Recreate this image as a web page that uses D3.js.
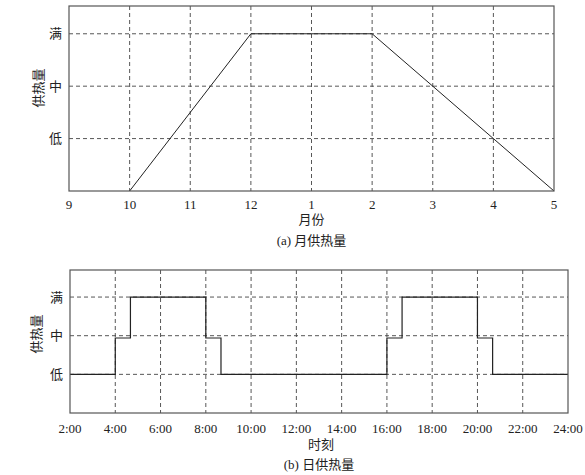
<!DOCTYPE html>
<html><head><meta charset="utf-8">
<script src="https://cdn.jsdelivr.net/npm/d3@7"></script>
<style>
body{margin:0;background:#fff;}
text{font-family:"Liberation Serif","Times New Roman","Noto Sans CJK SC",serif;fill:#222;}
</style></head>
<body><svg id="c" width="585" height="475"></svg>
<script>
// Monthly chart data
const months = ["9","10","11","12","1","2","3","4","5"];
const monthPoints = ["10","12","2","5"];
const monthLevels = [0,3,3,0];
// Daily chart data
const hourTicks = [2,4,6,8,10,12,14,16,18,20,22,24];
const hourTickLabels = ["2:00","4:00","6:00","8:00","10:00","12:00","14:00","16:00","18:00","20:00","22:00","24:00"];
const stepHours = [2,4,4.67,8,8.67,16,16.67,20,20.67,24];
const stepLevels = [1,1.94,3,1.94,1,1.94,3,1.94,1,1];
// Level labels
const levelValues = [1,2,3];
const levelLabels = ["低","中","满"];

const svg = d3.select("#c");
const gridColor = "#444", lineColor = "#222";

function frame(g, x0, x1, y0, y1){
  g.append("rect").attr("x",x0).attr("y",y0).attr("width",x1-x0).attr("height",y1-y0)
   .attr("fill","none").attr("stroke","#555").attr("stroke-width",1.2);
}
function hgrid(g, y, x0, x1){
  g.selectAll(null).data(levelValues).join("line")
   .attr("x1",x0).attr("x2",x1).attr("y1",d=>y(d)).attr("y2",d=>y(d))
   .attr("stroke",gridColor).attr("stroke-width",0.9).attr("stroke-dasharray","4,3");
  g.selectAll(null).data(levelValues).join("text")
   .attr("x",x0-7).attr("y",d=>y(d)).attr("dy","0.35em").attr("text-anchor","end")
   .attr("font-size",13).text((d,i)=>levelLabels[i]);
}

// ---------- (a) ----------
{
  const L=69,R=554,T=6,B=191;
  const g = svg.append("g");
  const x = d3.scalePoint().domain(months).range([L,R]);
  const y = d3.scaleLinear().domain([0,3.53]).range([B,T]);
  g.selectAll(null).data(months.slice(1,-1)).join("line")
   .attr("x1",d=>x(d)).attr("x2",d=>x(d)).attr("y1",T).attr("y2",B)
   .attr("stroke",gridColor).attr("stroke-width",0.9).attr("stroke-dasharray","4,3");
  hgrid(g,y,L,R);
  g.selectAll(null).data(months).join("text")
   .attr("x",d=>x(d)).attr("y",B+13).attr("dy","0.35em").attr("text-anchor","middle")
   .attr("font-size",13).text(d=>d);
  const line = d3.line().x((d,i)=>x(monthPoints[i])).y(d=>y(d));
  g.append("path").attr("d",line(monthLevels)).attr("fill","none").attr("stroke",lineColor).attr("stroke-width",1);
  frame(g,L,R,T,B);
  g.append("text").attr("transform",`translate(38,88) rotate(-90)`).attr("text-anchor","middle")
   .attr("dy","0.35em").attr("font-size",13).text("供热量");
  g.append("text").attr("x",(L+R)/2).attr("y",219).attr("dy","0.35em").attr("text-anchor","middle").attr("font-size",13).text("月份");
  g.append("text").attr("x",(L+R)/2).attr("y",240).attr("dy","0.35em").attr("text-anchor","middle").attr("font-size",13).text("(a) 月供热量");
}

// ---------- (b) ----------
{
  const L=70,R=568,T=270,B=413;
  const g = svg.append("g");
  const x = d3.scaleLinear().domain([2,24]).range([L,R]);
  const y = d3.scaleLinear().domain([0,3.7]).range([B,T]);
  g.selectAll(null).data(hourTicks.slice(1,-1)).join("line")
   .attr("x1",d=>x(d)).attr("x2",d=>x(d)).attr("y1",T).attr("y2",B)
   .attr("stroke",gridColor).attr("stroke-width",0.9).attr("stroke-dasharray","4,3");
  hgrid(g,y,L,R);
  g.selectAll(null).data(hourTicks).join("text")
   .attr("x",d=>x(d)).attr("y",B+15).attr("dy","0.35em").attr("text-anchor","middle")
   .attr("font-size",13).text((d,i)=>hourTickLabels[i]);
  const line = d3.line().x((d,i)=>x(stepHours[i])).y(d=>y(d)).curve(d3.curveStepAfter);
  g.append("path").attr("d",line(stepLevels)).attr("fill","none").attr("stroke",lineColor).attr("stroke-width",1.2);
  frame(g,L,R,T,B);
  g.append("text").attr("transform",`translate(36,334) rotate(-90)`).attr("text-anchor","middle")
   .attr("dy","0.35em").attr("font-size",13).text("供热量");
  g.append("text").attr("x",(L+R)/2+2).attr("y",444).attr("dy","0.35em").attr("text-anchor","middle").attr("font-size",13).text("时刻");
  g.append("text").attr("x",(L+R)/2).attr("y",464).attr("dy","0.35em").attr("text-anchor","middle").attr("font-size",13).text("(b) 日供热量");
}
</script></body></html>
